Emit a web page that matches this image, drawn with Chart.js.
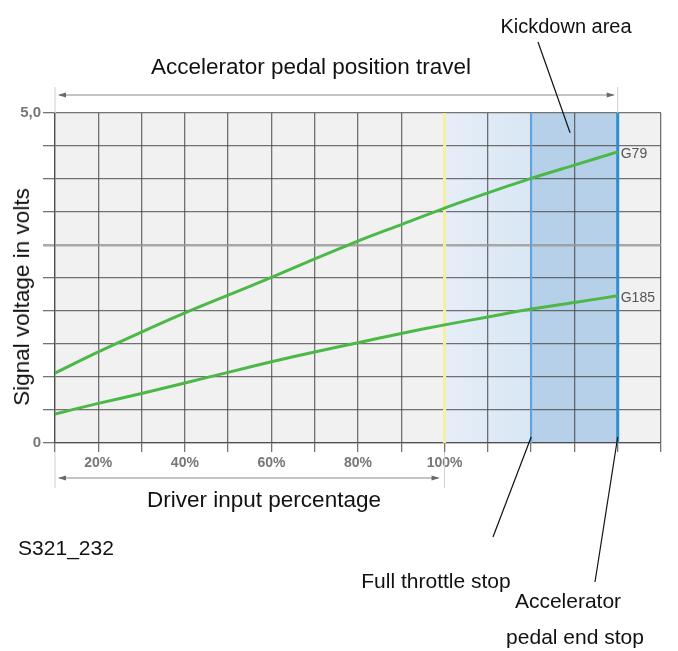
<!DOCTYPE html>
<html>
<head>
<meta charset="utf-8">
<script src="https://cdn.jsdelivr.net/npm/chart.js@4.4.0/dist/chart.umd.min.js"></script>
<style>
body { margin: 0; background: #fff; }
#wrap { position: relative; width: 678px; height: 651px; font-family: "Liberation Sans", Arial, sans-serif; color: #111; }
#wrap canvas { position: absolute; left: 0; top: 0; }
.lbl { position: absolute; white-space: nowrap; font-size: 21px; transform: translate(-50%, -50%); }
.big { font-size: 22.5px; }
.ytitle { transform: translate(-50%, -50%) rotate(-90deg); }
</style>
</head>
<body>
<div id="wrap">
    <canvas id="pedalChart" width="678" height="651"></canvas>
    <div class="lbl" style="left:566px; top:26px; font-size:20px;">Kickdown area</div>
    <div class="lbl big" style="left:311px; top:67px;">Accelerator pedal position travel</div>
    <div class="lbl big ytitle" style="left:22px; top:297px;">Signal voltage in volts</div>
    <div class="lbl big" style="left:264px; top:500px;">Driver input percentage</div>
    <div class="lbl" style="left:66px; top:548px;">S321_232</div>
    <div class="lbl" style="left:436px; top:581px;">Full throttle stop</div>
    <div class="lbl" style="left:568px; top:601px;">Accelerator</div>
    <div class="lbl" style="left:575px; top:637px;">pedal end stop</div>
</div>
<script>
// driver input / pedal travel in %, 100 = full throttle, 140 = pedal end stop
const pedalTravel = [10, 20, 30, 40, 50, 60, 70, 80, 90, 100, 110, 120, 130, 140];
const g79Volts = [1.06, 1.38, 1.68, 1.97, 2.24, 2.51, 2.79, 3.06, 3.31, 3.56, 3.79, 4.01, 4.21, 4.41];
const g185Volts = [0.44, 0.60, 0.75, 0.91, 1.07, 1.23, 1.38, 1.52, 1.66, 1.79, 1.91, 2.03, 2.13, 2.23];
const seriesNames = ["G79", "G185"];

const xTickValues = [20, 40, 60, 80, 100];
const xTickLabels = ["20%", "40%", "60%", "80%", "100%"];
const yTickValues = [0, 5];
const yTickLabels = ["0", "5,0"];

const driverMax = 100;
const fullThrottleStop = 120;
const pedalEndStop = 140;

function arrowHead(ctx, x, y, dir)
{
    ctx.beginPath();
    ctx.moveTo(x, y);
    ctx.lineTo(x - dir * 8, y - 2.5);
    ctx.lineTo(x - dir * 8, y + 2.5);
    ctx.closePath();
    ctx.fill();
}

function line(ctx, x1, y1, x2, y2)
{
    ctx.beginPath();
    ctx.moveTo(x1, y1);
    ctx.lineTo(x2, y2);
    ctx.stroke();
}

const pedalZones = {
    id: "pedalZones",
    beforeDraw(chart) {
        const {ctx, chartArea: a, scales: {x}} = chart;
        const x0 = x.getPixelForValue(driverMax);
        const x1 = x.getPixelForValue(fullThrottleStop);
        const x2 = x.getPixelForValue(pedalEndStop);
        ctx.save();
        ctx.fillStyle = "#f1f1f2";
        ctx.fillRect(a.left, a.top, a.width, a.height);
        const grad = ctx.createLinearGradient(x0, 0, x1, 0);
        grad.addColorStop(0, "#e6eef8");
        grad.addColorStop(1, "#d9e6f4");
        ctx.fillStyle = grad;
        ctx.fillRect(x0, a.top, x1 - x0, a.height);
        ctx.fillStyle = "#b7d0ea";
        ctx.fillRect(x1, a.top, x2 - x1, a.height);
        ctx.restore();
    },
    beforeDatasetsDraw(chart) {
        const {ctx, chartArea: a, scales: {x}} = chart;
        ctx.save();
        ctx.lineWidth = 3;
        ctx.strokeStyle = "#f6eea0";
        line(ctx, x.getPixelForValue(driverMax), a.top, x.getPixelForValue(driverMax), a.bottom);
        ctx.lineWidth = 2;
        ctx.strokeStyle = "#62a6de";
        line(ctx, x.getPixelForValue(fullThrottleStop), a.top, x.getPixelForValue(fullThrottleStop), a.bottom);
        ctx.lineWidth = 3;
        ctx.strokeStyle = "#2b8ed6";
        line(ctx, x.getPixelForValue(pedalEndStop), a.top, x.getPixelForValue(pedalEndStop), a.bottom);
        ctx.restore();
    },
    afterDraw(chart) {
        const {ctx, chartArea: a, scales: {x, y}} = chart;
        const xs = x.getPixelForValue(pedalTravel[0]);
        const xEnd = x.getPixelForValue(pedalEndStop);
        const xMax = x.getPixelForValue(driverMax);
        ctx.save();

        // travel arrows
        ctx.strokeStyle = "#cfcfcf";
        ctx.lineWidth = 1;
        line(ctx, xs, a.top - 26, xs, a.top);
        line(ctx, xEnd, a.top - 26, xEnd, a.top);
        line(ctx, xs, a.bottom + 9, xs, a.bottom + 45);
        line(ctx, xMax, a.bottom + 9, xMax, a.bottom + 45);

        ctx.strokeStyle = "#8a8a8a";
        ctx.fillStyle = "#6a6a6a";
        ctx.lineWidth = 1.2;
        const yTop = a.top - 18;
        line(ctx, xs + 4, yTop, xEnd - 4, yTop);
        arrowHead(ctx, xs + 3, yTop, -1);
        arrowHead(ctx, xEnd - 3, yTop, 1);
        const yBot = a.bottom + 35;
        line(ctx, xs + 4, yBot, xMax - 6, yBot);
        arrowHead(ctx, xs + 3, yBot, -1);
        arrowHead(ctx, xMax - 5, yBot, 1);

        // callout lines
        ctx.strokeStyle = "#111";
        ctx.lineWidth = 1.2;
        line(ctx, 538, 42, x.getPixelForValue(129), y.getPixelForValue(4.7));
        line(ctx, x.getPixelForValue(fullThrottleStop), a.bottom - 6, 493, 537);
        line(ctx, x.getPixelForValue(pedalEndStop), a.bottom - 6, 595, 582);

        // series names at the line ends
        ctx.fillStyle = "#555";
        ctx.font = "14px 'Liberation Sans', Arial, sans-serif";
        ctx.textBaseline = "middle";
        chart.data.datasets.forEach((ds, i) => {
            const pts = chart.getDatasetMeta(i).data;
            const last = pts[pts.length - 1];
            ctx.fillText(ds.label, last.x + 3, last.y + 2);
        });
        ctx.restore();
    }
};

const gridColor = (c) => c.tick && c.tick.value === 3 ? "rgba(150,150,150,0.8)" : "rgba(70,70,70,0.75)";
const gridWidth = (c) => c.tick && c.tick.value === 3 ? 2.6 : 1.3;

new Chart(document.getElementById("pedalChart"), {
    type: "line",
    data: {
        datasets: [
            {
                label: seriesNames[0],
                data: pedalTravel.map((p, i) => ({x: p, y: g79Volts[i]})),
                borderColor: "#4cb848",
                borderWidth: 3,
                pointRadius: 0,
                tension: 0.3
            },
            {
                label: seriesNames[1],
                data: pedalTravel.map((p, i) => ({x: p, y: g185Volts[i]})),
                borderColor: "#4cb848",
                borderWidth: 3,
                pointRadius: 0,
                tension: 0.3
            }
        ]
    },
    options: {
        responsive: false,
        animation: false,
        layout: { padding: { left: 0, right: 17, top: 113, bottom: 178 } },
        plugins: { legend: { display: false }, tooltip: { enabled: false } },
        scales: {
            x: {
                type: "linear",
                min: 10,
                max: 150,
                afterFit: (s) => { s.height = 30; },
                ticks: {
                    stepSize: 10,
                    autoSkip: false,
                    maxRotation: 0,
                    padding: 3,
                    color: "#777",
                    font: { family: "'Liberation Sans', Arial, sans-serif", size: 14, weight: "bold" },
                    callback: (v) => {
                        const i = xTickValues.indexOf(v);
                        return i >= 0 ? xTickLabels[i] : "";
                    }
                },
                grid: { color: "rgba(70,70,70,0.75)", lineWidth: 1.3, tickLength: 9 },
                border: { color: "rgba(70,70,70,0.75)", width: 1.3 }
            },
            y: {
                min: 0,
                max: 5,
                afterFit: (s) => { s.width = 55; },
                ticks: {
                    stepSize: 0.5,
                    padding: 2,
                    color: "#777",
                    font: { family: "'Liberation Sans', Arial, sans-serif", size: 15, weight: "bold" },
                    callback: (v) => {
                        const i = yTickValues.indexOf(v);
                        return i >= 0 ? yTickLabels[i] : "";
                    }
                },
                grid: { color: gridColor, lineWidth: gridWidth, tickLength: 12 },
                border: { color: "rgba(70,70,70,0.75)", width: 1.3 }
            }
        }
    },
    plugins: [pedalZones]
});
</script>
</body>
</html>
